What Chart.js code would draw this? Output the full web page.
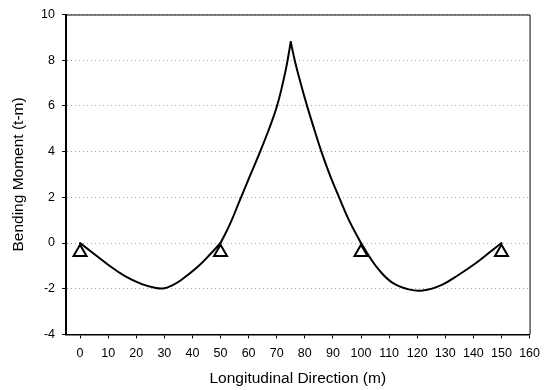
<!DOCTYPE html>
<html>
<head>
<meta charset="utf-8">
<script src="https://cdn.jsdelivr.net/npm/chart.js@4/dist/chart.umd.min.js"></script>
<style>
  html, body { margin: 0; padding: 0; background: #fff; }
  #wrap { width: 548px; height: 390px; position: relative; }
</style>
</head>
<body>
<div id="wrap"><canvas id="c" width="548" height="390"></canvas></div>
<script>
// ---- data ----
const positions = [0, 4, 10, 16, 22, 27, 30, 33, 36, 42, 46.5, 50,
                   53.2, 57.3, 60.7, 64.1, 67.3, 70, 72, 73.5, 75,
                   76.4, 78.4, 80.8, 83.3, 85.9, 89, 92.2, 95.7, 100,
                   103, 106.4, 111, 117, 122, 128.8, 134.8, 140.7, 146.6, 150];
const moments   = [0, -0.38, -0.95, -1.45, -1.80, -1.97, -1.98, -1.84, -1.62, -1.03, -0.47, 0,
                   0.78, 2.0, 3.0, 4.0, 5.0, 5.95, 6.9, 7.75, 8.8,
                   8.0, 7.05, 6.0, 5.0, 4.0, 2.95, 2.0, 1.0, 0,
                   -0.6, -1.18, -1.72, -2.03, -2.08, -1.83, -1.39, -0.9, -0.33, 0];
const supports  = [0, 50, 100, 150];
const loadPosition = 75;
const supportMarkerY = -0.4;
const xTicks = [0, 10, 20, 30, 40, 50, 60, 70, 80, 90, 100, 110, 120, 130, 140, 150, 160];
const yTicks = [-4, -2, 0, 2, 4, 6, 8, 10];

// moment diagram has slope breaks at the interior supports and under the load
const breaks = [supports[0], ...supports.slice(1, -1), loadPosition, supports[supports.length - 1]].sort((a, b) => a - b);
const pts = positions.map((x, i) => ({x, y: moments[i]}));
const segments = [];
for (let k = 0; k < breaks.length - 1; k++) {
  segments.push(pts.filter(p => p.x >= breaks[k] && p.x <= breaks[k + 1]));
}
const supportPts = supports.map(x => ({x, y: supportMarkerY}));

const FONT = "'Liberation Sans', Arial, Helvetica, sans-serif";

const frame = {
  id: 'frame',
  afterDatasetsDraw(chart) {
    const {ctx, chartArea: a} = chart;
    ctx.save();
    ctx.strokeStyle = '#000';
    ctx.lineWidth = 1;
    ctx.beginPath();
    ctx.moveTo(a.left, a.top + 0.5);
    ctx.lineTo(a.right + 0.5, a.top + 0.5);
    ctx.lineTo(a.right + 0.5, a.bottom);
    ctx.stroke();
    ctx.restore();
  }
};

const datasets = segments.map(seg => ({
  data: seg, borderColor: '#000', borderWidth: 2, pointRadius: 0, tension: 0.4, fill: false, borderCapStyle: 'round', borderJoinStyle: 'round'
}));
datasets.push({ data: supportPts, showLine: false, pointStyle: 'triangle', pointRadius: 7.5, pointBorderWidth: 2,
  pointBorderColor: '#000', pointBackgroundColor: 'rgba(255,255,255,0)', borderColor: '#000' });

new Chart(document.getElementById('c'), {
  type: 'line',
  data: { datasets },
  options: {
    responsive: false,
    animation: false,
    events: [],
    layout: { padding: { top: 7, right: 16, bottom: 2, left: 9 } },
    plugins: { legend: { display: false }, tooltip: { enabled: false } },
    scales: {
      x: {
        type: 'linear',
        min: -5, max: 160,
        afterBuildTicks: s => { s.ticks = xTicks.map(v => ({value: v})); },
        ticks: { color: '#000', font: { family: FONT, size: 12.5 }, padding: 8, maxRotation: 0, autoSkip: false },
        grid: { drawOnChartArea: false, drawTicks: true, tickLength: 4, tickColor: '#000', color: '#000' },
        border: { display: true, color: '#000', width: 1.5 },
        title: { display: true, text: 'Longitudinal Direction (m)', color: '#000', font: { family: FONT, size: 15.5 }, padding: { top: 0, bottom: 0 } }
      },
      y: {
        min: -4, max: 10,
        afterBuildTicks: s => { s.ticks = yTicks.map(v => ({value: v})); },
        afterFit: s => { s.width = 57; },
        ticks: { color: '#000', font: { family: FONT, size: 12.5 }, padding: 7 },
        grid: { drawOnChartArea: true, color: '#a8a8a8', lineWidth: 1, tickLength: 4, tickColor: '#000', tickBorderDash: [] },
        border: { display: true, color: '#000', width: 2, dash: [1, 3] },
        title: { display: true, text: 'Bending Moment (t-m)', color: '#000', font: { family: FONT, size: 15.5 }, padding: { top: 0, bottom: 4 } }
      }
    }
  },
  plugins: [frame]
});
</script>
</body>
</html>
